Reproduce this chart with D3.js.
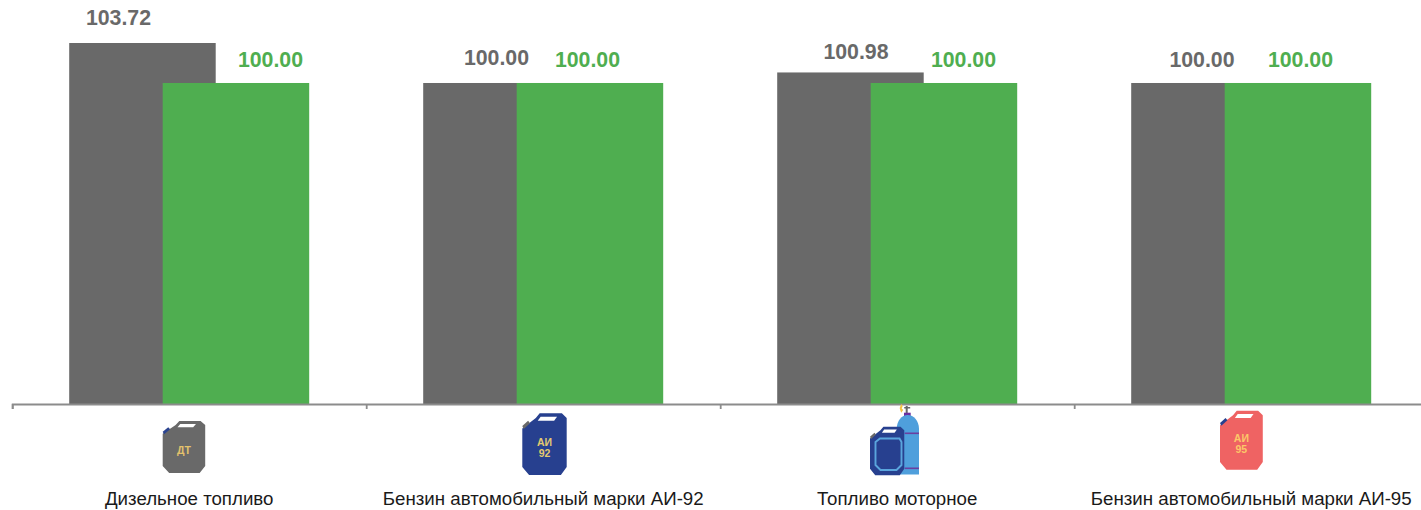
<!DOCTYPE html>
<html lang="ru">
<head>
<meta charset="utf-8">
<script src="https://cdn.jsdelivr.net/npm/d3@7"></script>
<style>
  html, body { margin: 0; padding: 0; background: #fff; }
  svg { display: block; font-family: "Liberation Sans", Arial, sans-serif; }
  .axis--ticks path, .axis--ticks line { stroke: #8c8c8c; stroke-width: 1.8; }
  .axis--labels path { display: none; }
  .axis--labels text { font-size: 18.7px; fill: #1a1a1a; }
  .value { font-size: 21.3px; font-weight: bold; text-anchor: middle; }
</style>
</head>
<body>
<svg width="1421" height="510"></svg>
<script>
const categories = [
  'Дизельное топливо',
  'Бензин автомобильный марки АИ-92',
  'Топливо моторное',
  'Бензин автомобильный марки АИ-95'
]
const greyValues = [103.72, 100.00, 100.98, 100.00]
const greenValues = [100.00, 100.00, 100.00, 100.00]

// the data labels were moved by hand in the original, so they are not centred
const greyNudge = [[-24, 25], [0, 65], [5.5, 59], [-2.5, 67]]
const greenNudge = [[34.5, 67], [-2.5, 67], [19.5, 67], [2.5, 67]]

const grey = '#696969'
const green = '#4fae50'

const svg = d3.select('svg')
const left = 12.2
const right = 1428.2
const baseline = 404
const barWidth = 146.5
const barOffset = 46.75

const x = d3.scaleBand().domain(categories).range([left, right])
const edges = d3.scaleLinear().domain([0, categories.length]).range([left, right])
const y = d3.scaleLinear().domain([70.14, 103.72]).range([baseline, 43])

const barX = (d, offset) => x(d) + x.bandwidth() / 2 + offset - barWidth / 2

svg.append('g').selectAll('rect')
  .data(categories)
  .enter().append('rect')
  .attr('x', (d) => barX(d, -barOffset))
  .attr('y', (d, i) => y(greyValues[i]))
  .attr('width', barWidth)
  .attr('height', (d, i) => baseline - y(greyValues[i]))
  .attr('fill', grey)

svg.append('g').selectAll('rect')
  .data(categories)
  .enter().append('rect')
  .attr('x', (d) => barX(d, barOffset))
  .attr('y', (d, i) => y(greenValues[i]))
  .attr('width', barWidth)
  .attr('height', (d, i) => baseline - y(greenValues[i]))
  .attr('fill', green)

svg.append('g')
  .attr('class', 'axis--ticks')
  .attr('transform', 'translate(0,' + baseline + ')')
  .call(d3.axisBottom(edges).tickValues(d3.range(categories.length + 1)).tickSize(5).tickFormat(''))

svg.append('g')
  .attr('class', 'axis--labels')
  .attr('transform', 'translate(0,' + baseline + ')')
  .call(d3.axisBottom(x).tickSize(0).tickPadding(87.5))
  .selectAll('text').attr('font-family', null).attr('font-size', null)

svg.append('g').selectAll('text')
  .data(categories)
  .enter().append('text')
  .attr('class', 'value')
  .attr('x', (d, i) => barX(d, -barOffset) + barWidth / 2 + greyNudge[i][0])
  .attr('y', (d, i) => greyNudge[i][1])
  .attr('fill', grey)
  .text((d, i) => greyValues[i].toFixed(2))

svg.append('g').selectAll('text')
  .data(categories)
  .enter().append('text')
  .attr('class', 'value')
  .attr('x', (d, i) => barX(d, barOffset) + barWidth / 2 + greenNudge[i][0])
  .attr('y', (d, i) => greenNudge[i][1])
  .attr('fill', green)
  .text((d, i) => greenValues[i].toFixed(2))

// jerrycan icons under the axis
const canPath = 'M0,13L14,4L18,0H41L46,4V46L40,53H7L0,46Z'
const handlePath = 'M19,3H36L33,6.5H16Z'
const capPath = 'M0,11L6,6.5L8,8.5L1.5,13.5Z'

const can = (px, py, sx, sy, body, cap, lines, color) => {
  const g = svg.append('g').attr('transform', 'translate(' + px + ',' + py + ')')
  const shape = g.append('g').attr('transform', 'scale(' + sx + ',' + sy + ')')
  shape.append('path').attr('d', canPath).attr('fill', body)
  shape.append('path').attr('d', handlePath).attr('fill', '#fff')
  shape.append('path').attr('d', capPath).attr('fill', cap)
  const w = 46 * sx
  const h = 53 * sy
  lines.forEach((line, i) => {
    g.append('text')
      .attr('x', w / 2)
      .attr('y', h * 0.56 + 3.5 + (i - (lines.length - 1) / 2) * 11)
      .attr('text-anchor', 'middle')
      .attr('font-size', lines.length > 1 ? 10.5 : 10.5)
      .attr('font-weight', 'bold')
      .attr('fill', color)
      .text(line)
  })
  return g
}

can(162.7, 421, 0.924, 0.98, grey, '#2b4490', ['ДТ'], '#e3c26c')
can(522.3, 413.3, 0.965, 1.165, '#27408f', '#696969', ['АИ', '92'], '#e3c96f')
can(1220, 410.7, 0.93, 1.115, '#ef6363', '#27408f', ['АИ', '95'], '#fcc768')

// gas cylinder behind the motor fuel can
const gas = svg.append('g').attr('transform', 'translate(896.7,407)')
gas.append('path').attr('d', 'M3,1L4.5,-3L6,-1L5,1.5L6.5,3L4.5,5.7L3.5,3Z').attr('fill', '#f5c343')
gas.append('rect').attr('x', 9).attr('y', -1).attr('width', 2).attr('height', 7).attr('fill', '#696969')
gas.append('rect').attr('x', 7.5).attr('y', 0).attr('width', 6).attr('height', 1.5).attr('fill', '#696969')
gas.append('rect').attr('x', 7.3).attr('y', 5.7).attr('width', 6.7).attr('height', 3.3).attr('fill', '#6a2fa0')
gas.append('path').attr('d', 'M0,67.5V22C0,14 5,8 11,8C17,8 22.3,14 22.3,22V67.5Z').attr('fill', '#4f9fdc')
gas.append('rect').attr('x', 8).attr('y', 25.5).attr('width', 14.3).attr('height', 1.6).attr('fill', '#6a3fa0')
gas.append('rect').attr('x', 8).attr('y', 60.5).attr('width', 14.3).attr('height', 1.6).attr('fill', '#6a3fa0')

can(870, 426.7, 0.745, 0.915, '#27408f', '#696969', [], '#fff')
svg.append('path')
  .attr('d', 'M875.5,442L880,438.5H899.5L901.5,442V465L896.5,470H880.5L875.5,465Z')
  .attr('fill', 'none')
  .attr('stroke', '#5aa5dd')
  .attr('stroke-width', 1.9)
</script>
</body>
</html>
